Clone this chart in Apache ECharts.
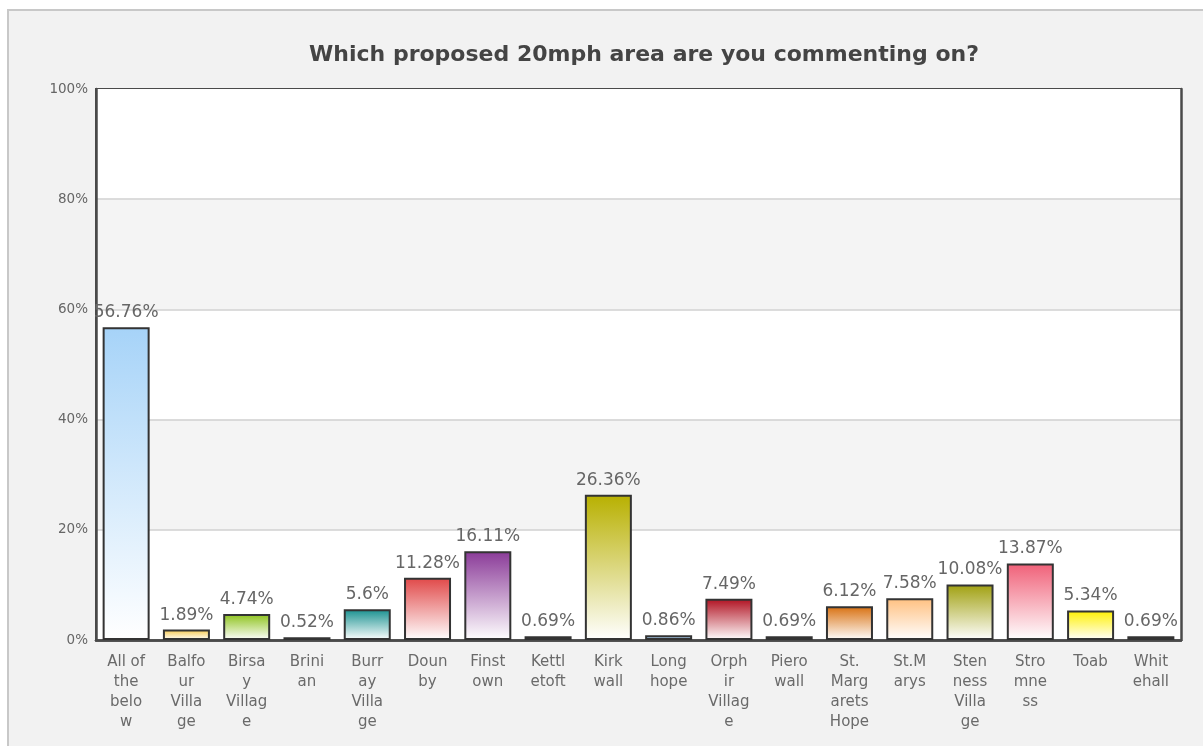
<!DOCTYPE html>
<html>
<head>
<meta charset="utf-8">
<script src="https://cdn.jsdelivr.net/npm/echarts@6/dist/echarts.min.js"></script>
<style>
html,body{margin:0;padding:0;background:#ffffff;}
#chart{width:1203px;height:746px;}
</style>
</head>
<body>
<div id="chart"></div>
<script>
const titleText = 'Which proposed 20mph area are you commenting on?';
const categories = ['All of the below','Balfour Village','Birsay Village','Brinian','Burray Village','Dounby','Finstown','Kettletoft','Kirkwall','Longhope','Orphir Village','Pierowall','St. Margarets Hope','St.Marys','Stenness Village','Stromness','Toab','Whitehall'];
const tickLabels = ['All of\nthe\nbelo\nw','Balfo\nur\nVilla\nge','Birsa\ny\nVillag\ne','Brini\nan','Burr\nay\nVilla\nge','Doun\nby','Finst\nown','Kettl\netoft','Kirk\nwall','Long\nhope','Orph\nir\nVillag\ne','Piero\nwall','St.\nMarg\narets\nHope','St.M\narys','Sten\nness\nVilla\nge','Stro\nmne\nss','Toab','Whit\nehall'];
const values = [56.76,1.89,4.74,0.52,5.6,11.28,16.11,0.69,26.36,0.86,7.49,0.69,6.12,7.58,10.08,13.87,5.34,0.69];
const barColors = ['#a6d3f8','#f7c84a','#8cc21a','#a07060','#17908f','#e04848','#8a3a98','#6a8a40','#b8b000','#4a8ac0','#b01020','#9a8ab8','#d87010','#ffc080','#a0a010','#f06078','#fff000','#406080'];
const yTicks = [0,20,40,60,80,100];

const chart = echarts.init(document.getElementById('chart'), null, {renderer:'canvas'});
const data = values.map((v,i)=>({
  value:v,
  itemStyle:{
    color:new echarts.graphic.LinearGradient(0,0,0,1,[{offset:0,color:barColors[i]},{offset:1,color:'#ffffff'}]),
    borderColor:'#333333',
    borderWidth:2
  }
}));
const frameLine = {show:true,lineStyle:{color:'#4a4a4a',width:2.5}};
chart.setOption({
  animation:false,
  backgroundColor:'#ffffff',
  graphic:[{
    type:'rect', z:-10, silent:true,
    shape:{x:8,y:10,width:1210,height:760},
    style:{fill:'#f2f2f2',stroke:'#c8c8c8',lineWidth:2}
  }],
  title:{
    text:titleText,
    left:639, top:39, textAlign:'center',
    textStyle:{fontFamily:'DejaVu Sans',fontWeight:'bold',fontSize:22,color:'#444444'}
  },
  grid:{
    left:96, right:22, top:89, bottom:106,
    show:true, backgroundColor:'#ffffff', borderColor:'#4a4a4a', borderWidth:2
  },
  xAxis:[{
    type:'category',
    data:categories,
    axisTick:{show:false},
    axisLine:frameLine,
    axisLabel:{
      interval:0, margin:12,
      formatter:(v,i)=>tickLabels[i],
      fontFamily:'DejaVu Sans', fontSize:15, lineHeight:20, color:'#6a6a6a'
    }
  },{
    type:'category', position:'top', data:categories,
    axisTick:{show:false}, axisLabel:{show:false}, axisLine:frameLine, splitLine:{show:false}
  }],
  yAxis:[{
    type:'value', min:0, max:100, interval:20,
    axisLine:frameLine,
    axisTick:{show:false},
    axisLabel:{
      formatter:v=>yTicks.includes(v)?v+'%':'',
      fontFamily:'DejaVu Sans', fontSize:13.5, color:'#666666', margin:8
    },
    splitLine:{show:true,showMaxLine:false,showMinLine:false,lineStyle:{color:'#d0d0d0',width:1.5}},
    splitArea:{show:true,areaStyle:{color:['#ffffff','#f4f4f4']}}
  },{
    type:'value', position:'right', min:0, max:100, interval:20,
    axisLine:frameLine, axisTick:{show:false}, axisLabel:{show:false},
    splitLine:{show:false}, splitArea:{show:false}
  }],
  series:[{
    type:'bar',
    xAxisIndex:0, yAxisIndex:0,
    data:data,
    barWidth:47,
    label:{
      show:true, position:'top', distance:6,
      formatter:p=>p.value+'%',
      fontFamily:'DejaVu Sans', fontSize:17, color:'#666666'
    }
  }]
});
</script>
</body>
</html>
